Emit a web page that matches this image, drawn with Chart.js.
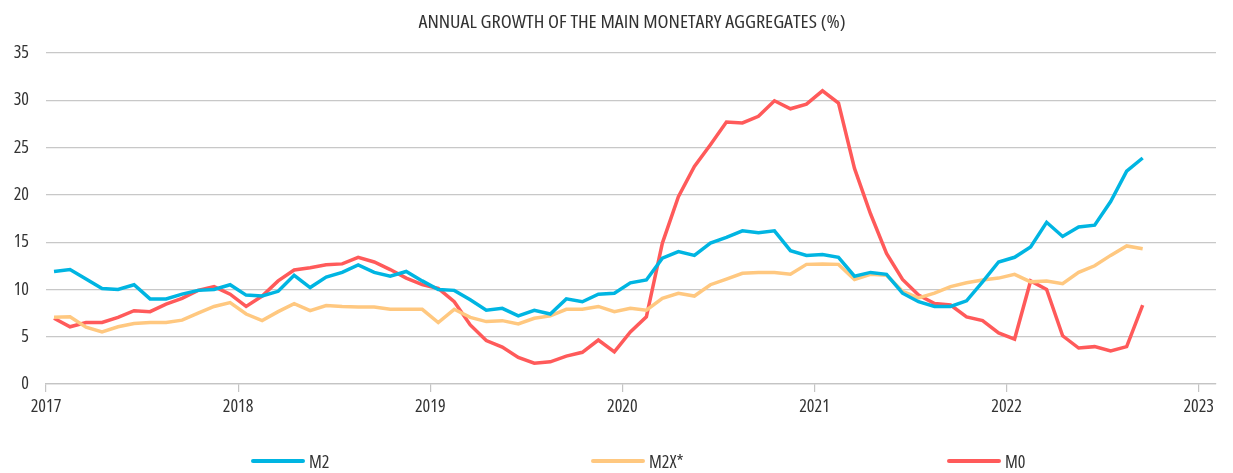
<!DOCTYPE html>
<html>
<head>
<meta charset="utf-8">
<script src="https://cdn.jsdelivr.net/npm/chart.js@4"></script>
<style>
  body { margin: 0; background: #fff; }
  #wrap { position: relative; width: 1233px; height: 473px; }
  #title { position: absolute; top: 12px; left: 632px; white-space: nowrap; line-height: 1;
           font-family: "Open Sans", sans-serif; font-stretch: condensed; font-size: 18px; color: #333;
           transform-origin: left top; }
  .leg { position: absolute; top: 452px; height: 18px; display: flex; align-items: center; line-height: 18px;
         font-family: "Open Sans", sans-serif; font-stretch: condensed; font-size: 18px; color: #333; }
  .leg span.ln { display: inline-block; width: 54px; height: 4px; border-radius: 2px; margin-right: 4px; }
</style>
</head>
<body>
<div id="wrap">
  <canvas id="chart"></canvas>
  <div id="title">ANNUAL GROWTH OF THE MAIN MONETARY AGGREGATES (%)</div>
  <div class="leg" style="left:251px"><span class="ln" style="background:#00b5e2"></span>M2</div>
  <div class="leg" style="left:591px"><span class="ln" style="background:#ffc880"></span>M2X*</div>
  <div class="leg" style="left:947px"><span class="ln" style="background:#ff5a5a"></span>M0</div>
</div>
<script>
document.addEventListener("DOMContentLoaded", function () {

// monthly, Jan 2017 - Sep 2022
const startYear = 2017;

const m2 = [
  11.9, 12.1, 11.1, 10.1, 10.0, 10.5, 9.0, 9.0, 9.5, 9.9, 10.0, 10.5,
  9.4, 9.3, 9.8, 11.5, 10.2, 11.3, 11.8, 12.6, 11.8, 11.4, 11.9, 10.9,
  10.0, 9.9, 8.9, 7.8, 8.0, 7.2, 7.8, 7.4, 9.0, 8.7, 9.5, 9.6,
  10.7, 11.0, 13.3, 14.0, 13.6, 14.9, 15.5, 16.2, 16.0, 16.2, 14.1, 13.6,
  13.7, 13.4, 11.4, 11.8, 11.6, 9.6, 8.7, 8.2, 8.2, 8.8, 10.8, 12.9,
  13.4, 14.5, 17.1, 15.6, 16.6, 16.8, 19.3, 22.5, 23.9
];

const m2x = [
  7.05, 7.1, 6.0, 5.5, 6.05, 6.4, 6.5, 6.5, 6.75, 7.5, 8.2, 8.6,
  7.4, 6.7, 7.65, 8.5, 7.75, 8.3, 8.2, 8.15, 8.15, 7.9, 7.9, 7.9,
  6.5, 7.9, 7.05, 6.6, 6.7, 6.35, 6.95, 7.2, 7.9, 7.9, 8.2, 7.65,
  8.0, 7.8, 9.05, 9.6, 9.3, 10.5, 11.1, 11.7, 11.8, 11.8, 11.6, 12.65,
  12.7, 12.65, 11.05, 11.6, 11.5, 9.8, 9.1, 9.6, 10.3, 10.7, 11.0, 11.2,
  11.6, 10.8, 10.9, 10.6, 11.8, 12.5, 13.6, 14.6, 14.3
];

const m0 = [
  6.95, 6.05, 6.5, 6.5, 7.05, 7.75, 7.65, 8.45, 9.05, 9.9, 10.3, 9.5,
  8.2, 9.3, 10.9, 12.05, 12.3, 12.6, 12.7, 13.4, 12.9, 12.1, 11.2, 10.5,
  10.1, 8.7, 6.25, 4.6, 3.9, 2.8, 2.2, 2.35, 2.95, 3.35, 4.65, 3.4,
  5.5, 7.1, 14.9, 19.8, 23.0, 25.3, 27.7, 27.6, 28.3, 29.95, 29.1, 29.6,
  31.0, 29.7, 22.8, 18.0, 13.8, 11.05, 9.4, 8.5, 8.35, 7.1, 6.7, 5.4,
  4.75, 10.9, 10.0, 5.1, 3.8, 3.95, 3.5, 3.95, 8.35
];

const xTicks = [2017, 2018, 2019, 2020, 2021, 2022, 2023];
const yTicks = [0, 5, 10, 15, 20, 25, 30, 35];

// fit the title to the reference width, centred
const title = document.getElementById('title');
const k = 427 / title.offsetWidth;
title.style.transform = 'scaleX(' + k + ') translateX(-50%)';

// mid-month position on a year scale
function toPoints(arr) {
  return arr.map((v, i) => ({ x: startYear + (i + 0.5) / 12, y: v }));
}

const tickFont = { family: "'Open Sans', sans-serif", size: 18, weight: 'condensed' };

const config = {
  type: 'line',
  data: {
    datasets: [
      { label: 'M2', data: toPoints(m2), borderColor: '#00b5e2' },
      { label: 'M2X*', data: toPoints(m2x), borderColor: '#ffc880' },
      { label: 'M0', data: toPoints(m0), borderColor: '#ff5a5a' }
    ]
  },
  options: {
    responsive: true,
    maintainAspectRatio: false,
    animation: false,
    layout: { padding: { left: 0, right: 17, top: 53, bottom: 0 } },
    elements: {
      line: { borderWidth: 3.5, tension: 0, fill: false },
      point: { radius: 0 }
    },
    plugins: {
      legend: { display: false },
      tooltip: { enabled: false },
      title: { display: false }
    },
    scales: {
      x: {
        type: 'linear',
        min: 2017,
        max: 2023.09,
        afterBuildTicks: s => { s.ticks = xTicks.map(v => ({ value: v })); },
        afterFit: s => { s.height = 89; },
        ticks: { color: '#333', font: tickFont, padding: 4, maxRotation: 0, autoSkip: false,
                 callback: v => String(v) },
        grid: { drawOnChartArea: false, drawTicks: true, tickLength: 8, color: '#c4c4c4', lineWidth: 1.2 },
        border: { display: true, color: '#c4c4c4', width: 1.2 }
      },
      y: {
        min: 0,
        max: 35,
        afterBuildTicks: s => { s.ticks = yTicks.map(v => ({ value: v })); },
        afterFit: s => { s.width = 46; },
        ticks: { color: '#333', font: tickFont, padding: 17 },
        grid: { drawTicks: false, color: '#c8c8c8', lineWidth: 1.2 },
        border: { display: false }
      }
    }
  }
};

new Chart(document.getElementById('chart'), config);

});
</script>
</body>
</html>
